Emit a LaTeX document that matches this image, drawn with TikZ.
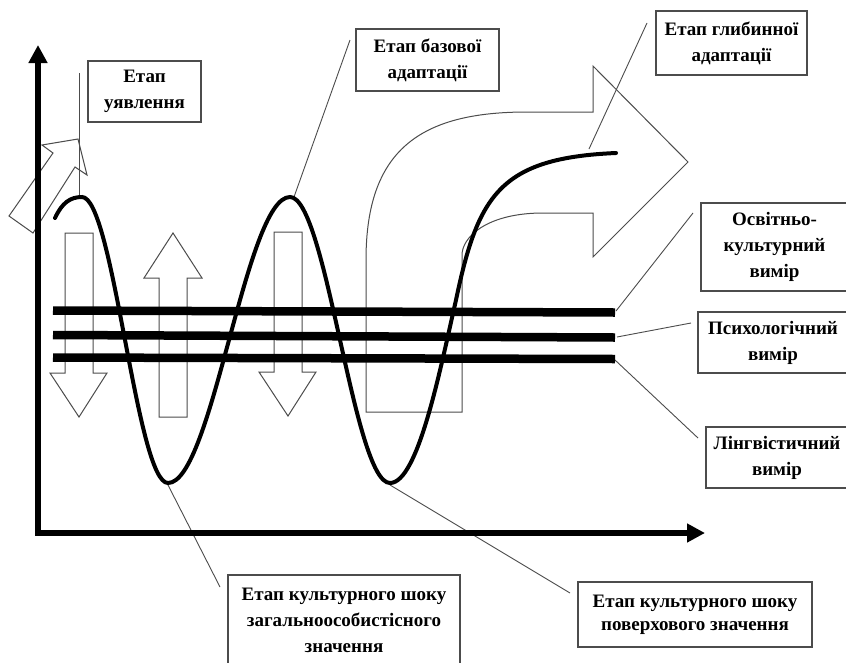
\documentclass[tikz,border=0pt]{standalone}
\usepackage{fontspec}
\setmainfont{Liberation Serif}
\usetikzlibrary{arrows.meta}
\definecolor{boxgray}{gray}{0.3}
\definecolor{leadgray}{gray}{0.3}
\definecolor{arrgray}{gray}{0.3}
\begin{document}
\begin{tikzpicture}[x=1pt,y=-1pt,
  lbl/.style={draw=boxgray,line width=1.1pt,font=\bfseries\fontsize{19}{26}\selectfont,align=center,inner sep=0pt},
  lead/.style={draw=leadgray,line width=0.9pt},
  blk/.style={draw=arrgray,line width=1pt,line join=miter},
  band/.style={line width=8.5pt},
  wave/.style={line width=4pt,line cap=round},
  axisline/.style={line width=6.5pt,line join=miter,{Triangle[length=18pt,width=18pt]}-{Triangle[length=18pt,width=18pt]}}]
\useasboundingbox (0,0) rectangle (846,662);
\fill[white] (0,0) rectangle (846,662);

% label boxes
\node[lbl,minimum width=113pt,minimum height=61pt] (uyav) at (144.5,91.5) {Етап\\уявлення};
\node[lbl,minimum width=143pt,minimum height=62pt] (baz) at (427.5,60) {Етап базової\\адаптації};
\node[lbl,minimum width=151pt,minimum height=64pt] (glyb) at (731.5,43) {Етап глибинної\\адаптації};
\node[lbl,minimum width=147pt,minimum height=88pt] (osv) at (774.5,247) {Освітньо-\\культурний\\вимір};
\node[lbl,minimum width=150pt,minimum height=61pt] (psy) at (773,342.5) {Психологічний\\вимір};
\node[lbl,minimum width=142pt,minimum height=61pt] (ling) at (777,457.5) {Лінгвістичний\\вимір};
\node[lbl,minimum width=232pt,minimum height=90pt] (shok1) at (344,620) {Етап культурного шоку\\загальноособистісного\\значення};
\node[lbl,minimum width=234pt,minimum height=65pt,font=\bfseries\fontsize{19}{23}\selectfont] (shok2) at (695,614.5) {Етап культурного шоку\\поверхового значення};

% leader end points
\coordinate (uyavA) at (79,197);  \coordinate (uyavB) at (79,73);
\coordinate (bazA) at (294,197);  \coordinate (bazB) at (350,40);
\coordinate (glybA) at (589,149); \coordinate (glybB) at (647,23);
\coordinate (osvA) at (616,311);  \coordinate (osvB) at (693,213);
\coordinate (psyA) at (617,337);  \coordinate (psyB) at (691,323);
\coordinate (lingA) at (615,360); \coordinate (lingB) at (698,438);
\coordinate (sh1A) at (168,485);  \coordinate (sh1B) at (220,587);
\coordinate (sh2A) at (390,485);  \coordinate (sh2B) at (570,593);

% block arrows
\draw[blk] (9,216) -- (33,233) -- (75,167) -- (87,175) -- (78,139) -- (42,145) -- (53,153) -- cycle;
\draw[blk] (65,233) -- (93,233) -- (93,373) -- (107,373) -- (79,417) -- (50,373) -- (65,373) -- cycle;
\draw[blk] (173,233) -- (202,278) -- (187,278) -- (187,417) -- (159,417) -- (159,278) -- (144,278) -- cycle;
\draw[blk] (274,232) -- (302,232) -- (302,372) -- (316,372) -- (288,416) -- (259,372) -- (274,372) -- cycle;
\draw[blk] (366,412) -- (462,412) -- (462,255) .. controls (462,238) and (485,214) .. (540,213) -- (593,213) -- (593,257) -- (688,162) -- (593,66) -- (593,112) -- (527,112) .. controls (420,112) and (366,150) .. (366,260) -- cycle;

% leaders
\draw[lead] (uyavA) -- (uyavB);
\draw[lead] (bazA) -- (bazB);
\draw[lead] (glybA) -- (glybB);
\draw[lead] (osvA) -- (osvB);
\draw[lead] (psyA) -- (psyB);
\draw[lead] (lingA) -- (lingB);
\draw[lead] (sh1A) -- (sh1B);
\draw[lead] (sh2A) -- (sh2B);

% three dimension bands
\draw[band] (53,310.5) -- (615,312.5);
\draw[band] (53,335) -- (615,337.5);
\draw[band] (53,357.5) -- (615,359);

% wave
\draw[wave] (55,218) .. controls (62,203) and (70,197) .. (82,197)
  .. controls (113.3,197) and (136.7,483) .. (168,483)
  .. controls (212.3,483) and (245.7,197) .. (290,197)
  .. controls (326.3,197) and (353.7,483) .. (390,483)
  .. controls (418,483) and (440,370) .. (456,300)
  .. controls (478,195) and (500,158) .. (616,153);

% axes
\draw[axisline] (38,45) -- (38,533) -- (705,533);
\end{tikzpicture}
\end{document}
